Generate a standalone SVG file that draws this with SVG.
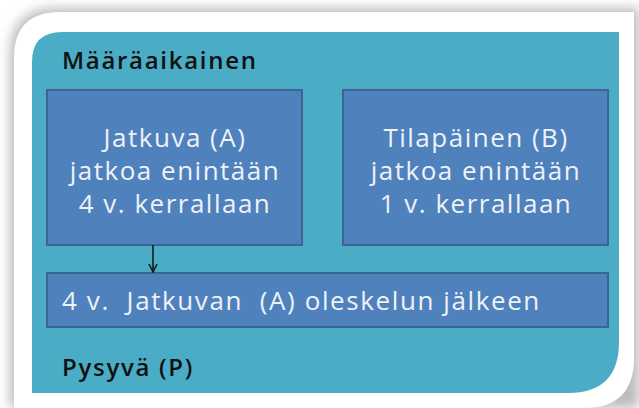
<svg xmlns="http://www.w3.org/2000/svg" width="639" height="408" viewBox="0 0 639 408">
<defs>
<filter id="sh" x="-10%" y="-10%" width="120%" height="120%">
<feGaussianBlur stdDeviation="6"/>
</filter>
<marker id="ar" viewBox="0 0 10 10" refX="9" refY="5" markerWidth="10" markerHeight="10" orient="auto" markerUnits="userSpaceOnUse">
<path d="M1,1 L9,5 L1,9" fill="none" stroke="#1a1a1a" stroke-width="1.6"/>
</marker>
</defs>
<style>
.box{fill:#4f81bd;stroke:#3a6595;stroke-width:2}
.t{font-family:"Open Sans","Liberation Sans",sans-serif;fill:#eef2f8;font-size:26px;letter-spacing:1.5px}
.h{font-family:"Open Sans","Liberation Sans",sans-serif;fill:#111;font-size:24px;font-weight:600;letter-spacing:1.7px}
</style>
<rect width="639" height="408" fill="#ffffff"/>
<path d="M10,55 Q10,8 57,8 L639,8 L639,408 L10,408 Z" fill="#bbbbbb" filter="url(#sh)"/>
<path d="M14,58 Q14,12 60,12 L634,12 L634,358 Q634,408 584,408 L14,408 Z" fill="#ffffff"/>
<path d="M32,62 Q32,32 62,32 L619,32 L619,342 Q619,393 568,393 L32,393 Z" fill="#4bacc6"/>
<g id="title"><text class="h" x="62" y="69">Määräaikainen</text></g>
<g id="nodeA">
<rect class="box" x="47" y="90" width="255" height="155"/>
<text class="t" text-anchor="middle" x="175" y="147">Jatkuva (A)</text>
<text class="t" text-anchor="middle" x="175" y="180">jatkoa enintään</text>
<text class="t" text-anchor="middle" x="175" y="213">4 v. kerrallaan</text>
</g>
<g id="nodeB">
<rect class="box" x="343" y="90" width="265" height="155"/>
<text class="t" text-anchor="middle" x="476" y="147">Tilapäinen (B)</text>
<text class="t" text-anchor="middle" x="476" y="180">jatkoa enintään</text>
<text class="t" text-anchor="middle" x="476" y="213">1 v. kerrallaan</text>
</g>
<g id="nodeP">
<rect class="box" x="47" y="273" width="561" height="54"/>
<text class="t" x="62" y="310" xml:space="preserve" style="letter-spacing:1.6px">4 v.  Jatkuvan  (A) oleskelun jälkeen</text>
</g>
<g id="footer"><text class="h" x="62" y="376">Pysyvä (P)</text></g>
<g id="connectors">
<line x1="153" y1="245" x2="153" y2="272" stroke="#1a1a1a" stroke-width="1.6" marker-end="url(#ar)"/>
</g>
</svg>
